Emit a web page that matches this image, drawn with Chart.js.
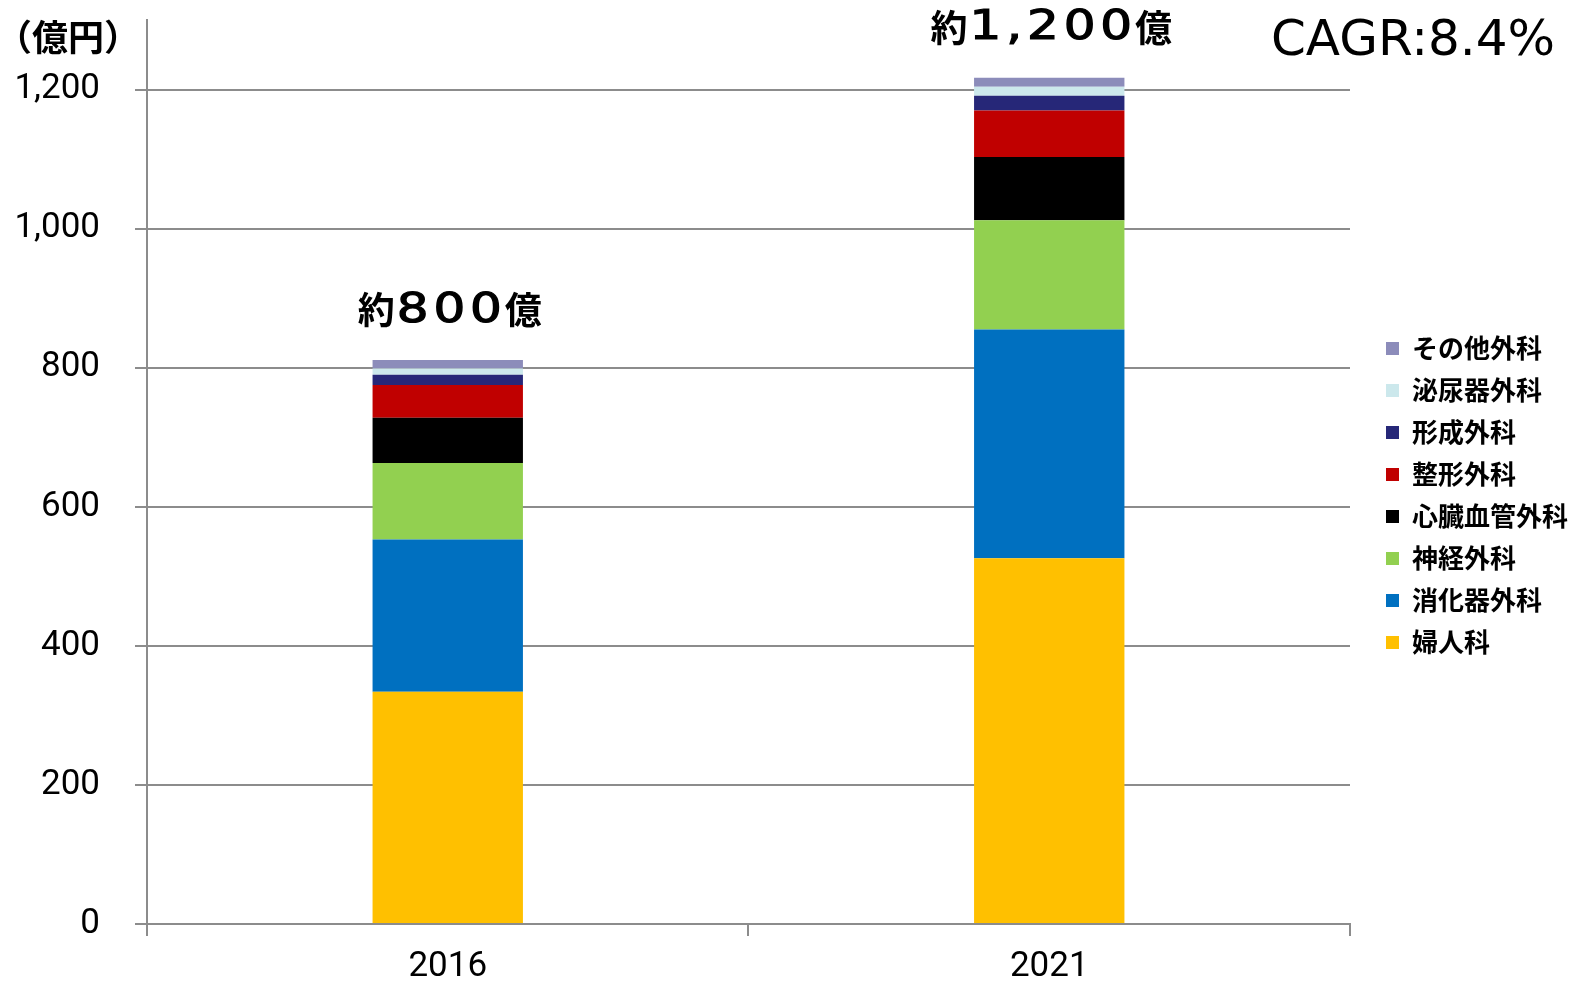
<!DOCTYPE html>
<html>
<head>
<meta charset="utf-8">
<script src="https://cdn.jsdelivr.net/npm/chart.js@4/dist/chart.umd.min.js"></script>
<style>
  html, body { margin: 0; padding: 0; background: #fff; }
  #wrap { width: 1570px; height: 981px; }
</style>
</head>
<body>
<div id="wrap"><canvas id="marketChart" width="1570" height="981"></canvas></div>
<script>
// 年度
const years = ["2016", "2021"];

// 診療科ごとの市場規模（億円）
const gynecology = [334, 526];      // 婦人科
const digestive = [219, 329];       // 消化器外科
const neuro = [110, 157];           // 神経外科
const cardio = [65, 91];            // 心臓血管外科
const orthopedic = [47, 67];        // 整形外科
const plastic = [15, 21];           // 形成外科
const urology = [9, 13];            // 泌尿器外科
const otherSurgery = [12, 13];      // その他外科

const totalLabels = ["約800億", "約1,200億"];
const yTicks = [0, 200, 400, 600, 800, 1000, 1200];

const GRID = "#8c8c8c";
const tickFont = { family: 'Roboto, "DejaVu Sans Condensed", sans-serif', size: 35 };

function seg(label, data, color) {
    return {
        label: label,
        data: data,
        backgroundColor: color,
        borderWidth: 0,
        barPercentage: 0.25,
        categoryPercentage: 1.0,
    };
}

// 漢字は太字、数字は横長の細字で描く
function drawMixed(ctx, text, cx, cy) {
    const runs = text.match(/[0-9,.]+|[^0-9,.]+/g);
    const kanjiFont = 'bold 37px "Noto Sans CJK JP", sans-serif';
    const digitFont = '41px "DejaVu Sans", sans-serif';
    const sx = 1.22;
    const spacing = "4px";
    const widths = runs.map((r) => {
        if (/[0-9]/.test(r)) {
            ctx.font = digitFont;
            ctx.letterSpacing = spacing;
            const w = ctx.measureText(r).width * sx;
            ctx.letterSpacing = "0px";
            return w;
        }
        ctx.font = kanjiFont;
        return ctx.measureText(r).width;
    });
    let x = cx - widths.reduce((a, b) => a + b, 0) / 2;
    ctx.textAlign = "left";
    ctx.textBaseline = "middle";
    runs.forEach((r, i) => {
        if (/[0-9]/.test(r)) {
            ctx.save();
            ctx.font = digitFont;
            ctx.letterSpacing = spacing;
            ctx.translate(x + 2, cy + 1);
            ctx.scale(sx, 1);
            ctx.lineWidth = 1.2;
            ctx.strokeStyle = "#000";
            ctx.fillText(r, 0, 0);
            ctx.strokeText(r, 0, 0);
            ctx.restore();
        } else {
            ctx.font = kanjiFont;
            ctx.fillText(r, x, cy);
        }
        x += widths[i];
    });
}

const annotations = {
    id: "annotations",
    afterLayout(chart) {
        // 凡例を右端に寄せる
        const lg = chart.legend;
        lg.left += 20;
        lg.right += 20;
        lg.top -= 5;
        lg.bottom -= 5;
    },
    afterDatasetsDraw(chart) {
        const { ctx, chartArea, scales } = chart;
        const ds = chart.data.datasets;
        ctx.save();
        ctx.fillStyle = "#000";
        totalLabels.forEach((t, i) => {
            const sum = ds.reduce((a, d) => a + d.data[i], 0);
            drawMixed(ctx, t, scales.x.getPixelForValue(i) + 2, scales.y.getPixelForValue(sum) - 50);
        });
        // 単位
        ctx.textAlign = "center";
        ctx.textBaseline = "middle";
        ctx.font = 'bold 36px "Noto Sans CJK JP", sans-serif';
        ctx.fillText("（億円）", chartArea.left - 79, 37);
        // CAGR
        ctx.font = '50px "DejaVu Sans", Verdana, sans-serif';
        ctx.textAlign = "right";
        ctx.fillText("CAGR:8.4%", 1555, 42);
        ctx.restore();
    },
};

const canvas = document.getElementById("marketChart");
new Chart(canvas.getContext("2d"), {
    type: "bar",
    data: {
        labels: years,
        datasets: [
            seg("婦人科", gynecology, "#FFC000"),
            seg("消化器外科", digestive, "#0070C0"),
            seg("神経外科", neuro, "#92D050"),
            seg("心臓血管外科", cardio, "#000000"),
            seg("整形外科", orthopedic, "#C00000"),
            seg("形成外科", plastic, "#262778"),
            seg("泌尿器外科", urology, "#CCE8EC"),
            seg("その他外科", otherSurgery, "#8C8CBA"),
        ],
    },
    options: {
        responsive: false,
        animation: false,
        layout: { padding: { top: 20, left: 0, right: 12, bottom: 0 } },
        scales: {
            x: {
                stacked: true,
                afterFit: (s) => {
                    s.height = 57;
                    s.paddingLeft = 0;
                    s.paddingRight = 0;
                },
                grid: {
                    offset: true,
                    drawOnChartArea: false,
                    color: GRID,
                    lineWidth: 2,
                    tickLength: 12,
                },
                border: { color: GRID, width: 2 },
                ticks: { color: "#000", font: tickFont, padding: 10 },
            },
            y: {
                stacked: true,
                min: 0,
                max: 1300,
                afterBuildTicks: (axis) => {
                    axis.ticks = yTicks.map((v) => ({ value: v }));
                },
                afterFit: (s) => {
                    s.width = 147;
                    s.paddingTop = 0;
                    s.paddingBottom = 0;
                },
                grid: { color: GRID, lineWidth: 2, tickLength: 12 },
                border: { color: GRID, width: 2 },
                ticks: {
                    color: "#000",
                    font: tickFont,
                    padding: 35,
                    callback: (v) => v.toLocaleString("en-US"),
                },
            },
        },
        plugins: {
            legend: {
                position: "right",
                reverse: true,
                labels: {
                    color: "#000",
                    boxWidth: 13,
                    boxHeight: 13,
                    padding: 16,
                    font: { family: '"Noto Sans CJK JP", sans-serif', size: 26, weight: "bold" },
                },
            },
            tooltip: { enabled: false },
        },
    },
    plugins: [annotations],
});
</script>
</body>
</html>
